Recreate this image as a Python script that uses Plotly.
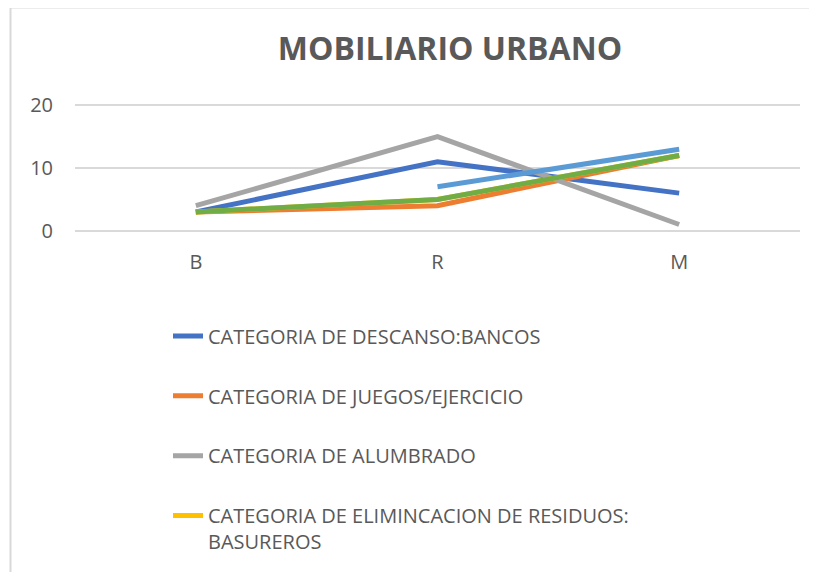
import plotly.graph_objects as go

categories = ["B", "R", "M"]
series_names = [
    "CATEGORIA DE DESCANSO:BANCOS",
    "CATEGORIA DE JUEGOS/EJERCICIO",
    "CATEGORIA DE ALUMBRADO",
    "CATEGORIA DE ELIMINCACION DE RESIDUOS:<br>BASUREROS",
    "Serie 5",
    "Serie 6",
]
bancos = [3, 11, 6]
juegos = [3, 4, 12]
alumbrado = [4, 15, 1]
residuos = [3, 5, 12]
serie5 = [None, 7, 13]
serie6 = [3, 5, 12]
colors = ["#4472C4", "#ED7D31", "#A5A5A5", "#FFC000", "#5B9BD5", "#70AD47"]
values = [bancos, juegos, alumbrado, residuos, serie5, serie6]
show_legend = [True, True, True, True, False, False]

FONT = "Open Sans"
TXT = "#595959"

fig = go.Figure()
for i, (name, vals) in enumerate(zip(series_names, values)):
    fig.add_trace(go.Scatter(
        x=categories, y=vals, name=name, mode="lines",
        line=dict(color=colors[i], width=5),
        showlegend=show_legend[i], legendgroup=f"g{i}",
        connectgaps=False,
    ))

# page offset (body margin of the html page)
OFF = 8
W, H = 817, 572
# y range padded slightly so the 0 and 20 gridlines are drawn
YPAD = 0.35
PXU = 126 / 20.0
PL, PR, PT, PB = 75, 800, 105 - YPAD * PXU, 231 + YPAD * PXU
L, T = PL - OFF, PT - OFF
R = W - (PR - OFF)
B = H - (PB - OFF)
pw, ph = W - L - R, H - T - B

def px_x(x):
    return (x - OFF - L) / pw

def px_y(y):
    return (H - B - (y - OFF)) / ph

fig.update_layout(
    width=W, height=H,
    margin=dict(l=L, r=R, t=T, b=B, autoexpand=False),
    paper_bgcolor="white", plot_bgcolor="white",
    font=dict(family=FONT, color=TXT, size=20),
    title=dict(text="<b>MOBILIARIO URBANO</b>", x=(450 - OFF) / W, xanchor="center",
               y=1 - (49 - OFF) / H, yanchor="middle",
               font=dict(family=FONT, size=32, color=TXT)),
    xaxis=dict(range=[-0.5, 2.5], showgrid=False, zeroline=False, showline=False,
               ticks="", ticklabelstandoff=15, tickfont=dict(size=20, color=TXT)),
    yaxis=dict(range=[-YPAD, 20 + YPAD], tickvals=[0, 10, 20], showgrid=True,
               gridcolor="#D9D9D9", gridwidth=1.5, zeroline=False, showline=False,
               ticks="", ticklabelstandoff=21, tickfont=dict(size=20, color=TXT)),
    legend=dict(x=px_x(168), xanchor="left", y=px_y(317), yanchor="top",
                tracegroupgap=30.8, valign="top", font=dict(size=20, color=TXT),
                bgcolor="rgba(0,0,0,0)"),
    shapes=[dict(type="rect", xref="paper", yref="paper",
                 x0=px_x(10.5), x1=px_x(840), y0=px_y(600), y1=px_y(7),
                 line=dict(color="#D9D9D9", width=2), layer="below")],
)

fig.write_html("out.html")
